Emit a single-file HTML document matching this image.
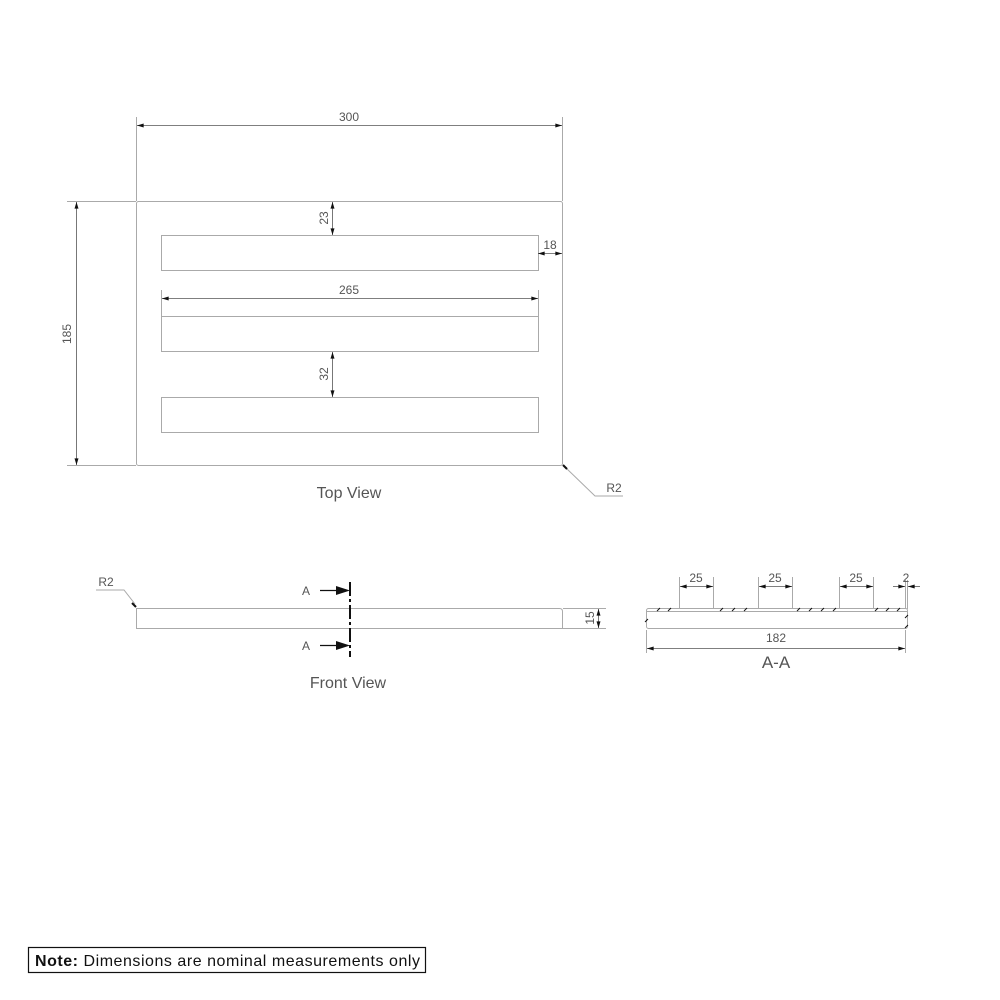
<!DOCTYPE html>
<html><head><meta charset="utf-8"><style>
html,body{margin:0;padding:0;background:#fff;}
svg{display:block;}
text{font-family:"Liberation Sans",sans-serif;fill:#555;}
</style></head><body>
<svg width="1000" height="1000" viewBox="0 0 1000 1000" xmlns="http://www.w3.org/2000/svg">
<defs>
<marker id="ar" viewBox="0 0 10 6" refX="10" refY="3" markerWidth="8" markerHeight="4" orient="auto-start-reverse" markerUnits="userSpaceOnUse"><path d="M0,0 L10,3 L0,6z" fill="#111"/></marker>
</defs>
<g stroke="#aaa" stroke-width="1" fill="none">
<rect x="136.5" y="201.5" width="426" height="264" rx="2"/>
<rect x="161.5" y="235.5" width="377" height="35"/>
<rect x="161.5" y="316.5" width="377" height="35"/>
<rect x="161.5" y="397.5" width="377" height="35"/>
<line x1="136.5" y1="117" x2="136.5" y2="201"/>
<line x1="562.5" y1="117" x2="562.5" y2="201"/>
<line x1="67" y1="201.5" x2="136" y2="201.5"/>
<line x1="67" y1="465.5" x2="136" y2="465.5"/>
<line x1="161.5" y1="290" x2="161.5" y2="316"/>
<line x1="538.5" y1="290" x2="538.5" y2="316"/>
<polyline points="565,467 595,496 623,496"/>
<path d="M136.5,628.5 V608.5 H559.5 Q562.5,608.5 562.5,611.5 V628.5 Z"/>
<line x1="563" y1="608.5" x2="606" y2="608.5"/>
<line x1="563" y1="628.5" x2="606" y2="628.5"/>
<polyline points="96,590 124,590 135,604"/>
<rect x="646.5" y="608.5" width="261" height="20" rx="2"/>
<line x1="647" y1="611.5" x2="907" y2="611.5"/>
<line x1="646.5" y1="630" x2="646.5" y2="653"/>
<line x1="905.5" y1="630" x2="905.5" y2="653"/>
<line x1="679.5" y1="577" x2="679.5" y2="609"/>
<line x1="713.5" y1="577" x2="713.5" y2="609"/>
<line x1="758.5" y1="577" x2="758.5" y2="609"/>
<line x1="792.5" y1="577" x2="792.5" y2="609"/>
<line x1="839.5" y1="577" x2="839.5" y2="609"/>
<line x1="873.5" y1="577" x2="873.5" y2="609"/>
<line x1="905.5" y1="580" x2="905.5" y2="609"/>
<line x1="907.5" y1="580" x2="907.5" y2="609"/>
</g>
<g stroke="#555" stroke-width="0.8" fill="none" marker-start="url(#ar)" marker-end="url(#ar)">
<line x1="137" y1="125.5" x2="562" y2="125.5"/>
<line x1="76.5" y1="202" x2="76.5" y2="465"/>
<line x1="332.5" y1="202" x2="332.5" y2="235"/>
<line x1="538" y1="253.5" x2="562" y2="253.5"/>
<line x1="162" y1="298.5" x2="538" y2="298.5"/>
<line x1="332.5" y1="352" x2="332.5" y2="397"/>
<line x1="598.5" y1="609" x2="598.5" y2="628"/>
<line x1="647" y1="648.5" x2="905" y2="648.5"/>
<line x1="680" y1="586.5" x2="713" y2="586.5"/>
<line x1="759" y1="586.5" x2="792" y2="586.5"/>
<line x1="840" y1="586.5" x2="873" y2="586.5"/>
</g>
<g stroke="#555" stroke-width="0.8" fill="none">
<line x1="893" y1="586.5" x2="905" y2="586.5" marker-end="url(#ar)"/>
<line x1="920" y1="586.5" x2="908" y2="586.5" marker-end="url(#ar)"/>
</g>
<g stroke="#111" stroke-width="1">
<line x1="657" y1="611" x2="660" y2="608"/><line x1="668" y1="611" x2="671" y2="608"/>
<line x1="720" y1="611" x2="723" y2="608"/><line x1="732" y1="611" x2="735" y2="608"/><line x1="744" y1="611" x2="747" y2="608"/>
<line x1="797" y1="611" x2="800" y2="608"/><line x1="809" y1="611" x2="812" y2="608"/><line x1="821" y1="611" x2="824" y2="608"/><line x1="833" y1="611" x2="836" y2="608"/>
<line x1="875" y1="611" x2="878" y2="608"/><line x1="886" y1="611" x2="889" y2="608"/><line x1="897" y1="611" x2="900" y2="608"/>
<line x1="645" y1="622" x2="648" y2="619"/><line x1="905" y1="618" x2="908" y2="615"/><line x1="905" y1="628" x2="908" y2="625"/>
<line x1="132" y1="603" x2="136" y2="607" stroke-width="2"/>
<line x1="563" y1="465" x2="567" y2="469" stroke-width="2"/>
</g>
<g stroke="#111" stroke-width="2">
<line x1="350" y1="582" x2="350" y2="657" stroke-dasharray="14,3,3,3"/>
<line x1="320" y1="590.5" x2="340" y2="590.5" stroke-width="1.2"/>
<line x1="320" y1="645.5" x2="340" y2="645.5" stroke-width="1.2"/>
</g>
<path d="M336,586 L350,590.5 L336,595z" fill="#111"/>
<path d="M336,641 L350,645.5 L336,650z" fill="#111"/>
<g font-size="12">
<text x="349" y="121" text-anchor="middle">300</text>
<text x="349" y="294" text-anchor="middle">265</text>
<text x="550" y="249" text-anchor="middle">18</text>
<text transform="translate(71,334) rotate(-90)" text-anchor="middle">185</text>
<text transform="translate(328,218) rotate(-90)" text-anchor="middle">23</text>
<text transform="translate(328,374) rotate(-90)" text-anchor="middle">32</text>
<text transform="translate(594,618) rotate(-90)" text-anchor="middle">15</text>
<text x="614" y="492" text-anchor="middle">R2</text>
<text x="106" y="586" text-anchor="middle">R2</text>
<text x="306" y="595" text-anchor="middle">A</text>
<text x="306" y="650" text-anchor="middle">A</text>
<text x="696" y="582" text-anchor="middle">25</text>
<text x="775" y="582" text-anchor="middle">25</text>
<text x="856" y="582" text-anchor="middle">25</text>
<text x="906" y="582" text-anchor="middle">2</text>
<text x="776" y="642" text-anchor="middle">182</text>
</g>
<text x="349" y="498" font-size="16" text-anchor="middle">Top View</text>
<text x="348" y="688" font-size="16" text-anchor="middle">Front View</text>
<text x="776" y="668" font-size="17" text-anchor="middle">A-A</text>
<rect x="28.5" y="947.5" width="397" height="25" fill="none" stroke="#111" stroke-width="1.2"/>
<text x="35" y="966" font-size="16" style="fill:#111" textLength="385" lengthAdjust="spacing"><tspan font-weight="bold">Note:</tspan> Dimensions are nominal measurements only</text>
</svg>
</body></html>
